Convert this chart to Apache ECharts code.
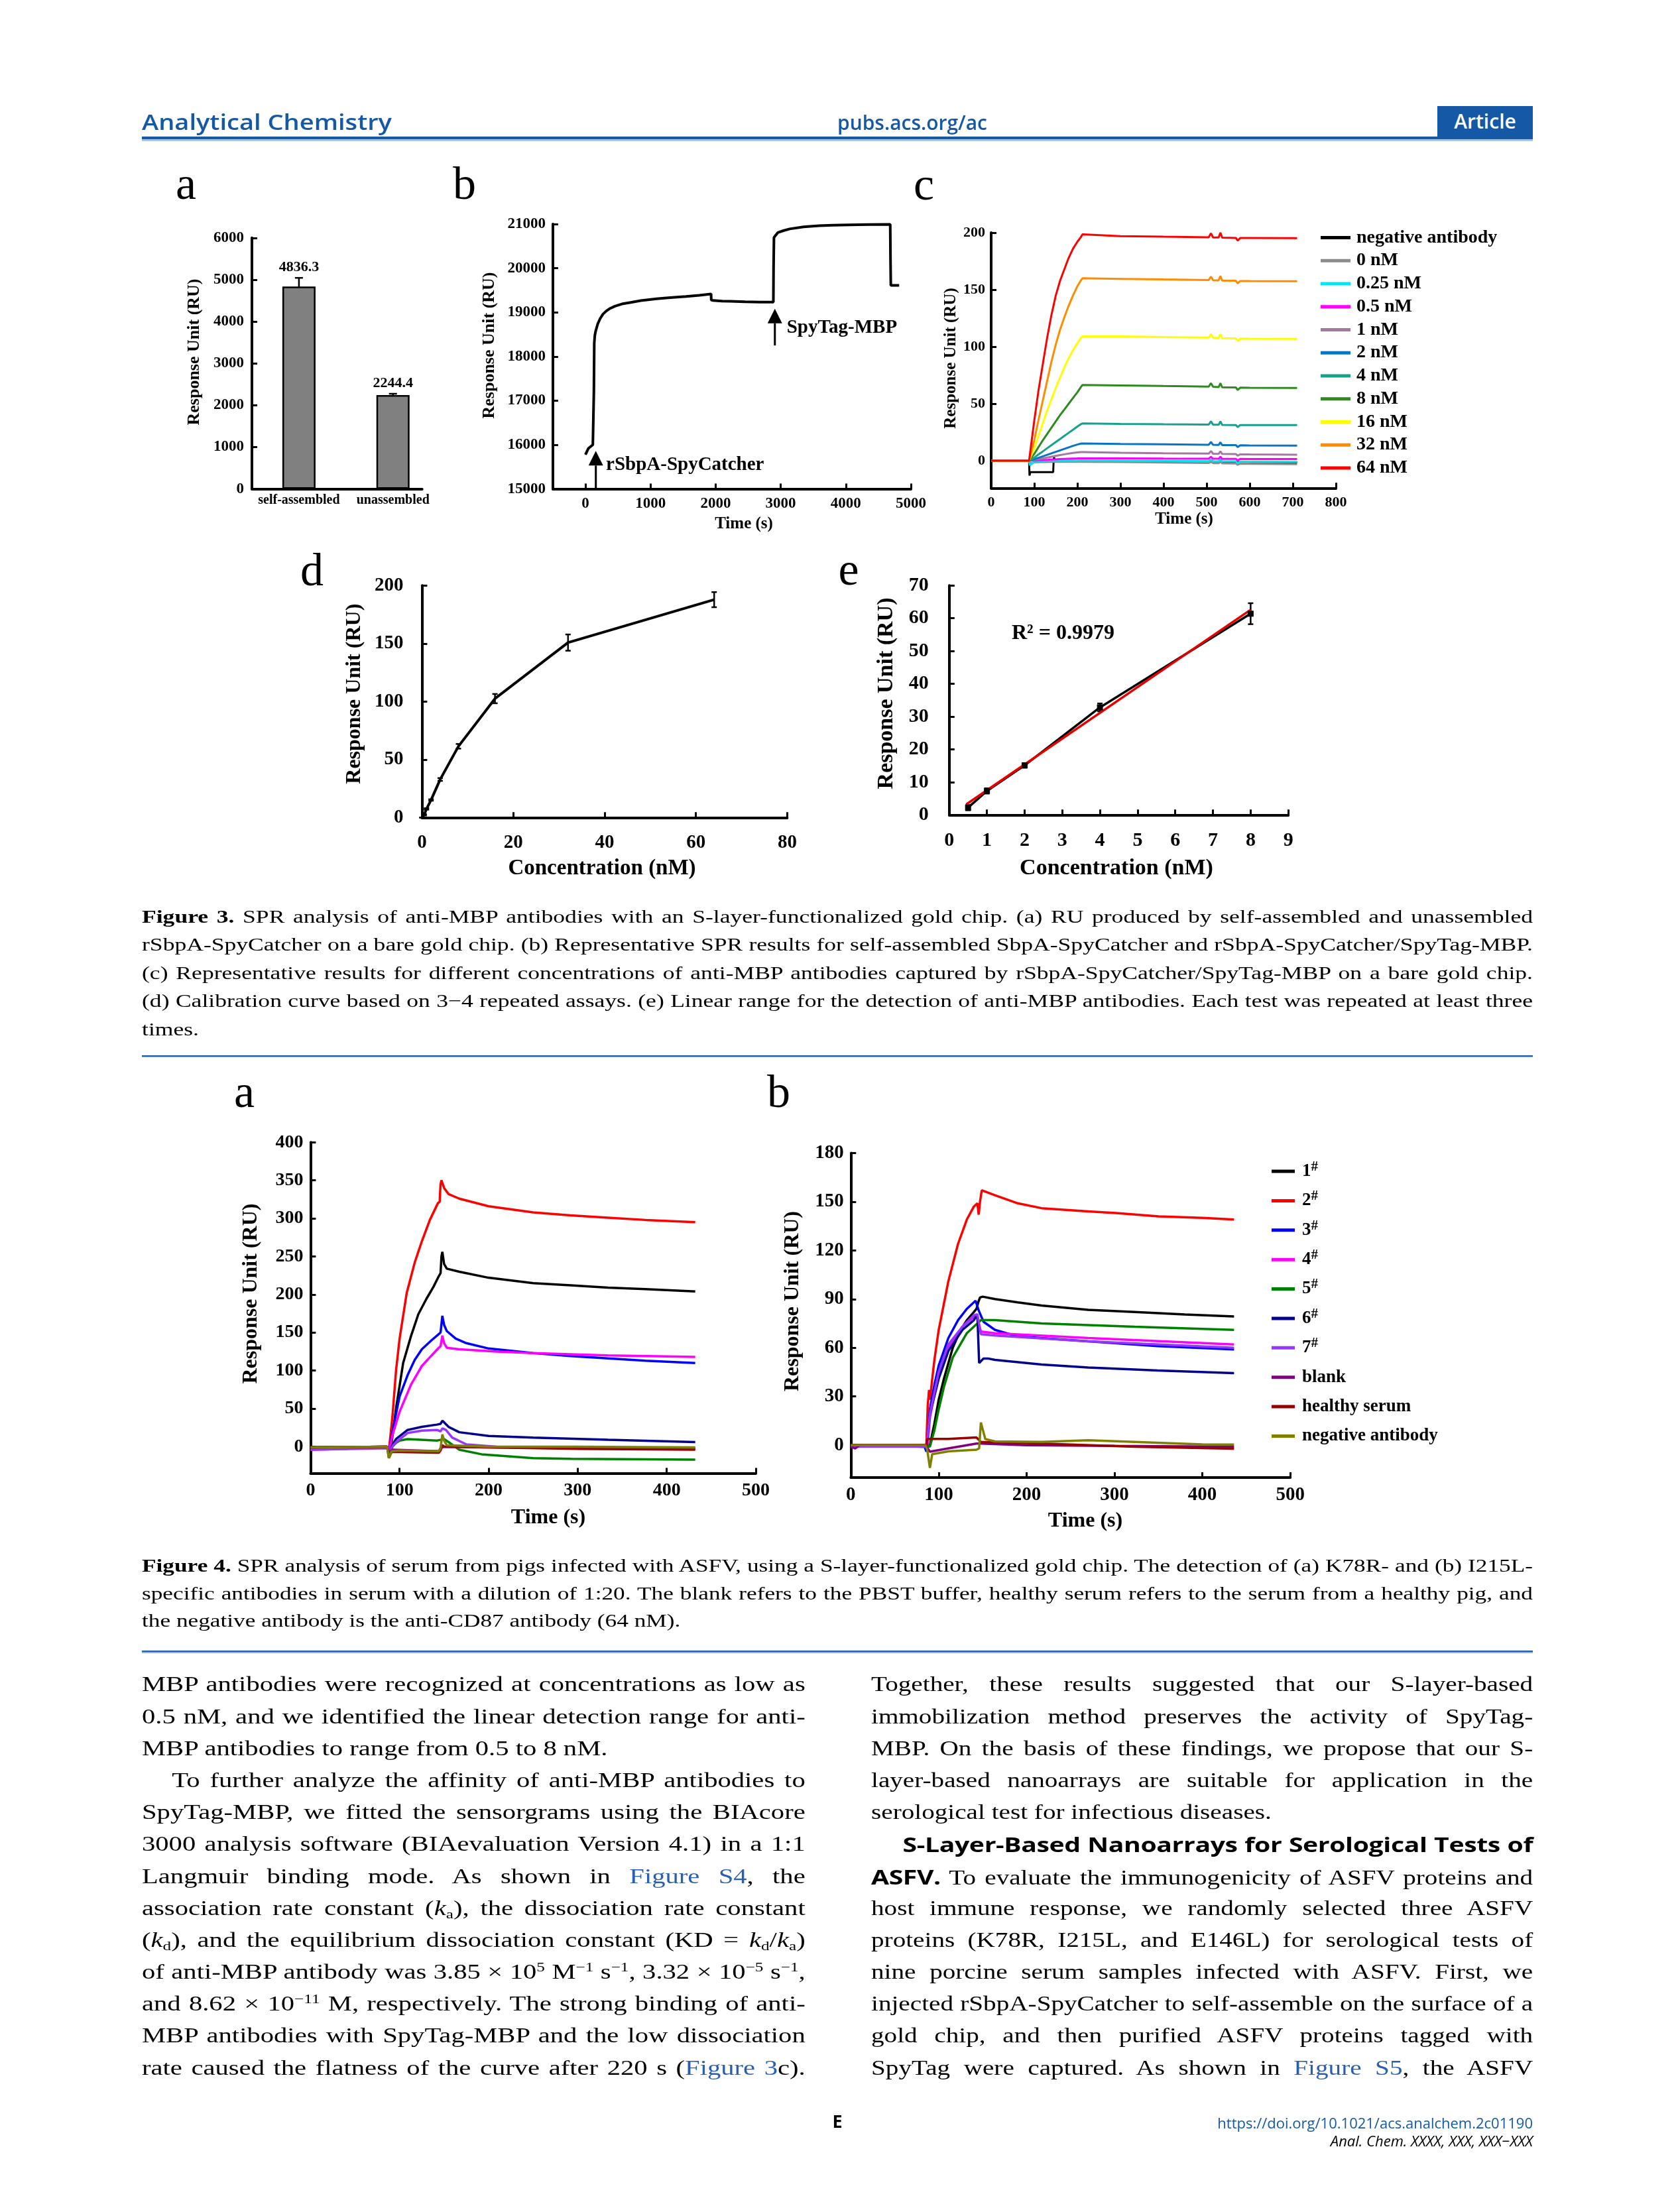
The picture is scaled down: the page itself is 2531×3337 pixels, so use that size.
<!DOCTYPE html>
<html><head><meta charset="utf-8">
<script src="https://cdn.jsdelivr.net/npm/echarts@6/dist/echarts.min.js"></script>
<style>
html,body{margin:0;padding:0;background:#fff;}
body{width:2531px;height:3337px;position:relative;overflow:hidden;}
#chart{position:absolute;left:0;top:0;width:2531px;height:3337px;z-index:1;}
.t{position:absolute;z-index:2;color:#000;white-space:nowrap;}
.blue{color:#1458a6;}
.rule{position:absolute;z-index:2;left:214px;width:2098px;}
.txt{position:absolute;z-index:2;font-family:"Liberation Serif",serif;color:#000;transform-origin:0 0;}
.cap{left:214px;width:2098px;font-size:27.5px;line-height:42.5px;}
.col{top:2517.4px;font-size:30.5px;line-height:48.2px;}
.ln{text-align:justify;text-align-last:justify;overflow:visible;}
.cap .ln{height:42.5px;}
.col .ln{height:48.2px;}
.ln.last{text-align-last:left;}
.ind1{text-indent:34px;}
.ind2{text-indent:37px;}
.sans{font-family:"Open Sans",sans-serif;font-weight:700;letter-spacing:-0.3px;}
a{color:#2a5fb0;text-decoration:none;}
sup{font-size:0.62em;vertical-align:0.6em;line-height:0;}
sub{font-size:0.62em;vertical-align:-0.25em;line-height:0;}
</style></head><body>
<div id="chart"></div>

<div class="t blue" id="jt" style="left:214px;top:164px;font:600 33px 'Open Sans',sans-serif;line-height:40px;transform-origin:0 0;">Analytical Chemistry</div>
<div class="t blue" id="url" style="left:1263px;top:164px;font:600 31px 'Open Sans',sans-serif;line-height:40px;transform-origin:0 0;">pubs.acs.org/ac</div>
<div class="t" style="left:2168px;top:160px;width:144px;height:46px;background:#1458a6;color:#fff;font:600 30px 'Open Sans',sans-serif;line-height:46px;text-align:center;">Article</div>
<div class="rule" style="top:206px;height:4px;background:#1458a6;"></div>
<div class="rule" style="top:210px;height:3px;background:#a9c4e4;"></div>

<div class="txt cap" id="cap3" style="top:1361.75px;">
<div class="ln"><b>Figure 3.</b> SPR analysis of anti-MBP antibodies with an S-layer-functionalized gold chip. (a) RU produced by self-assembled and unassembled</div>
<div class="ln">rSbpA-SpyCatcher on a bare gold chip. (b) Representative SPR results for self-assembled SbpA-SpyCatcher and rSbpA-SpyCatcher/SpyTag-MBP.</div>
<div class="ln">(c) Representative results for different concentrations of anti-MBP antibodies captured by rSbpA-SpyCatcher/SpyTag-MBP on a bare gold chip.</div>
<div class="ln">(d) Calibration curve based on 3−4 repeated assays. (e) Linear range for the detection of anti-MBP antibodies. Each test was repeated at least three</div>
<div class="ln last">times.</div>
</div>
<div class="rule" style="top:1591.5px;height:2px;background:#1f5fae;"></div>
<div class="rule" style="top:1593.5px;height:1.5px;background:#8fb2de;"></div>

<div class="txt cap" id="cap4" style="top:2341.25px;line-height:41.5px;">
<div class="ln" style="height:41.5px"><b>Figure 4.</b> SPR analysis of serum from pigs infected with ASFV, using a S-layer-functionalized gold chip. The detection of (a) K78R- and (b) I215L-</div>
<div class="ln" style="height:41.5px">specific antibodies in serum with a dilution of 1:20. The blank refers to the PBST buffer, healthy serum refers to the serum from a healthy pig, and</div>
<div class="ln last" style="height:41.5px">the negative antibody is the anti-CD87 antibody (64 nM).</div>
</div>
<div class="rule" style="top:2490px;height:2px;background:#1f5fae;"></div>
<div class="rule" style="top:2492px;height:1.5px;background:#8fb2de;"></div>

<div class="txt col" id="colL" style="left:214px;width:1000.7px;">
<div class="ln">MBP antibodies were recognized at concentrations as low as</div>
<div class="ln">0.5 nM, and we identified the linear detection range for anti-</div>
<div class="ln last">MBP antibodies to range from 0.5 to 8 nM.</div>
<div class="ln ind1">To further analyze the affinity of anti-MBP antibodies to</div>
<div class="ln">SpyTag-MBP, we fitted the sensorgrams using the BIAcore</div>
<div class="ln">3000 analysis software (BIAevaluation Version 4.1) in a 1:1</div>
<div class="ln">Langmuir binding mode. As shown in <a>Figure S4</a>, the</div>
<div class="ln">association rate constant (<i>k</i><sub>a</sub>), the dissociation rate constant</div>
<div class="ln">(<i>k</i><sub>d</sub>), and the equilibrium dissociation constant (KD = <i>k</i><sub>d</sub>/<i>k</i><sub>a</sub>)</div>
<div class="ln">of anti-MBP antibody was 3.85 × 10<sup>5</sup> M<sup>−1</sup> s<sup>−1</sup>, 3.32 × 10<sup>−5</sup> s<sup>−1</sup>,</div>
<div class="ln">and 8.62 × 10<sup>−11</sup> M, respectively. The strong binding of anti-</div>
<div class="ln">MBP antibodies with SpyTag-MBP and the low dissociation</div>
<div class="ln">rate caused the flatness of the curve after 220 s (<a>Figure 3</a>c).</div>
</div>

<div class="txt col" id="colR" style="left:1313.8px;width:998.2px;">
<div class="ln">Together, these results suggested that our S-layer-based</div>
<div class="ln">immobilization method preserves the activity of SpyTag-</div>
<div class="ln">MBP. On the basis of these findings, we propose that our S-</div>
<div class="ln">layer-based nanoarrays are suitable for application in the</div>
<div class="ln last">serological test for infectious diseases.</div>
<div class="ln ind2 free"><span class="sans">S-Layer-Based Nanoarrays for Serological Tests of</span></div>
<div class="ln"><span class="sans">ASFV.</span> To evaluate the immunogenicity of ASFV proteins and</div>
<div class="ln">host immune response, we randomly selected three ASFV</div>
<div class="ln">proteins (K78R, I215L, and E146L) for serological tests of</div>
<div class="ln">nine porcine serum samples infected with ASFV. First, we</div>
<div class="ln">injected rSbpA-SpyCatcher to self-assemble on the surface of a</div>
<div class="ln">gold chip, and then purified ASFV proteins tagged with</div>
<div class="ln">SpyTag were captured. As shown in <a>Figure S5</a>, the ASFV</div>
</div>

<div class="t" style="left:1249px;top:3185px;width:28px;text-align:center;font:700 27px 'Open Sans',sans-serif;line-height:30px;">E</div>
<div class="t blue" id="doi" style="right:219px;top:3187px;font:400 22px 'Open Sans',sans-serif;line-height:30px;">https://doi.org/10.1021/acs.analchem.2c01190</div>
<div class="t" id="jr" style="right:219px;top:3214px;font:italic 400 22px 'Open Sans',sans-serif;line-height:30px;">Anal. Chem. XXXX, XXX, XXX−XXX</div>

<script>
// ---------------- DATA ----------------
const fig3aCategories = ['self-assembled', 'unassembled'];
const fig3aValues = [4836.3, 2244.4];
const fig3aErrors = [207, 30];
const fig3aTicksY = [0, 1000, 2000, 3000, 4000, 5000, 6000];

const fig3bTime = [0,45,114,123,130,136,145,159,190,227,270,318,380,455,560,682,850,1091,1300,1546,1750,1930,1933,1960,2100,2228,2450,2682,2887,2890,2896,2920,2955,3040,3137,3350,3591,3800,4046,4350,4682,4686,4691,4819];
const fig3bRU = [15778,15917,16000,16028,17200,18306,18480,18584,18740,18861,18960,19028,19090,19139,19190,19222,19265,19306,19335,19361,19385,19417,19278,19268,19255,19250,19240,19233,19233,20000,20694,20740,20806,20850,20889,20935,20961,20975,20983,20990,20994,20200,19611,19611];
const fig3bArrows = [[160, 15020, 15860], [2910, 18250, 19083]];
const fig3bArrowLabels = ['rSbpA-SpyCatcher', 'SpyTag-MBP'];
const fig3bArrowLabelPos = [[316, 15535], [3092, 18643]];
const fig3bTicksX = [0, 1000, 2000, 3000, 4000, 5000];
const fig3bTicksY = [15000, 16000, 17000, 18000, 19000, 20000, 21000];

const fig3cNames = ['negative antibody','0 nM','0.25 nM','0.5 nM','1 nM','2 nM','4 nM','8 nM','16 nM','32 nM','64 nM'];
const fig3cColors = ['#000000','#8c8c8c','#00e6f2','#ff00ff','#a27aa0','#0a74c4','#17a08e','#2e8a1e','#ffff00','#ff8c00','#ff0000'];
const fig3cTime = [0,88,90,100,110,120,130,140,150,160,170,180,190,200,208,212,300,400,505,510,515,528,532,536,568,572,578,600,710];
const fig3cNegative = [[0,0],[88,0],[89,-13],[91,-10],[144,-10],[145,0],[146,3],[148,0],[300,-0.5],[500,-1],[710,-1.5]];
const fig3c0nM   = [0,0,-2.5,-1.5,-1.3,-1.2,-1.1,-1,-1,-1,-1,-1,-1,-1,-1,-1,-1.2,-1.6,-2,-0.8,-2.1,-2.2,-0.8,-2.3,-2.4,-3.6,-2.6,-2.7,-3];
const fig3c025nM = [0,0,-4,-1,-0.5,-0.3,0,0,0,0,0,0,0,0,0.2,0.2,0,-0.2,-0.4,1,-0.5,-0.5,1.2,-0.6,-0.6,-2.2,-0.8,-0.8,-1];
const fig3c05nM  = [0,0,0,0.2,0.4,0.6,0.8,1,1.2,1.4,1.6,1.8,1.9,2,2.1,2.1,2,1.9,1.8,3.5,1.7,1.7,3.5,1.6,1.6,0.3,1.6,1.5,1.5];
const fig3c1nM   = [0,0,0,0.7,1.4,2.1,2.8,3.5,4.2,4.9,5.6,6.2,6.8,7.3,7.5,7.5,7,6.6,6.2,8.5,6.1,6,8.2,5.9,5.8,4.4,5.6,5.5,5.3];
const fig3c2nM   = [0,0,0,1.3,2.6,3.9,5.2,6.5,7.8,9.1,10.4,11.7,13,14.2,15,15.1,14.7,14.4,14,16.5,13.9,13.8,16.2,13.7,13.6,12,13.5,13.4,13.3];
const fig3c4nM   = [0,0,0,2.7,5.5,8.2,11,13.7,16.4,19.1,21.8,24.5,27.2,29.9,32,32.7,32.3,32,31.7,34.5,31.6,31.5,34.5,31.4,31.3,29.5,31.3,31.2,31.2];
const fig3c8nM   = [0,0,0,6,12,18,23.5,29,34.5,40,45,50,55,60,64.5,66.5,66,65.5,65,68,64.8,64.6,68,64.4,64.2,62,64.1,64,63.8];
const fig3c16nM  = [0,0,0,11,22,33,44,54,64,73,82,90,97,103,107.5,109,109,108.5,108,111,107.8,107.6,111,107.4,107.2,105,107.1,107,106.9];
const fig3c32nM  = [0,0,0,18,36,53,70,87,102,115,126,136,145,153,158,160,159.5,159,158.5,161.5,158.3,158.2,162,158,157.8,155.5,157.6,157.5,157.4];
const fig3c64nM  = [0,0,0,35,62,85,108,128,145,158,168,178,186,192,196,198.5,197,196.5,196,199.5,195.8,195.8,200,195.6,195.4,193,195.3,195.3,195.2];
const fig3cTicksX = [0,100,200,300,400,500,600,700,800];
const fig3cTicksY = [0,50,100,150,200];

const fig3dConc = [0, 0.5, 1, 2, 4, 8, 16, 32, 64];
const fig3dRU = [0, 2.3, 7.4, 15.1, 32.8, 61.4, 102.5, 150.8, 187.8];
const fig3dErr = [0, 0.5, 0.6, 0.6, 1.2, 2, 4, 7, 6.5];
const fig3dTicksX = [0,20,40,60,80];
const fig3dTicksY = [0,50,100,150,200];

const fig3eConc = [0.5, 1, 2, 4, 8];
const fig3eRU = [2.2, 7.3, 15.1, 32.8, 61.4];
const fig3eErr = [0.8, 0.8, 0.7, 1.2, 3.2];
const fig3eFit = [[0.45, 3.2], [8, 62.6]];
const fig3eTicksX = [0,1,2,3,4,5,6,7,8,9];
const fig3eTicksY = [0,10,20,30,40,50,60,70];

const fig4Names = ['1#','2#','3#','4#','5#','6#','7#','blank','healthy serum','negative antibody'];
const fig4Colors = ['#000000','#ff0000','#0000ff','#ff00ff','#008000','#00008b','#9933ff','#800080','#990000','#808000'];
const fig4aData = [
 [[0,-1],[86,0],[88,-5],[91,5],[96,50],[104,110],[113,146],[121,174],[130,194],[138,210],[144,224],[146,228],[147,250],[148,256],[150,240],[153,234],[167,230],[200,222],[250,215],[292,212],[334,209],[376,207],[432,204]],
 [[0,-1],[86,0],[88,-5],[92,40],[96,100],[100,142],[108,202],[117,242],[125,270],[134,298],[143,320],[145,322],[146,345],[147,350],[150,340],[155,332],[167,326],[200,316],[250,308],[292,304],[334,301],[376,298],[432,295]],
 [[0,-2],[86,-1],[88,-6],[92,20],[100,66],[109,94],[117,114],[125,128],[136,140],[144,148],[146,150],[148,172],[150,160],[153,152],[163,142],[175,136],[200,129],[250,123],[292,119],[334,116],[376,113],[432,110]],
 [[0,-4],[40,-3],[50,-1],[86,-1],[88,-6],[92,15],[100,46],[113,82],[125,106],[136,120],[144,130],[146,132],[148,146],[150,136],[153,130],[167,128],[209,125],[250,123],[334,120],[432,118]],
 [[0,-1],[86,0],[88,-10],[92,0],[96,5],[100,8],[109,10],[142,8],[146,9],[150,10],[155,6],[167,-4],[192,-10],[250,-15],[292,-16],[432,-17]],
 [[0,-2],[86,-1],[88,-10],[92,2],[96,10],[109,22],[125,26],[142,29],[146,30],[148,34],[150,32],[155,26],[167,19],[200,14],[250,12],[334,9],[432,6]],
 [[0,-4],[50,-3],[86,-2],[88,-8],[92,0],[96,6],[109,18],[125,21],[142,22],[146,20],[148,24],[152,22],[159,12],[175,3],[209,0],[300,-1],[432,-2]],
 [[0,-1],[86,0],[88,-8],[92,-4],[144,-6],[146,-2],[150,0],[200,-1],[300,-2],[432,-3]],
 [[0,-1],[86,0],[88,-15],[91,-7],[100,-7],[144,-8],[146,-5],[148,2],[150,0],[200,-1],[300,-3],[432,-4]],
 [[0,-1],[86,0],[88,-15],[91,-6],[100,-5],[144,-6],[146,-2],[148,16],[150,8],[153,2],[200,0],[300,0],[432,-1]]
];
const fig4bData = [
 [[0,0],[85,0],[88,-1],[90,0],[95,13],[100,28],[106,41],[116,60],[124,70],[132,77],[140,82],[143,84],[145,88],[147,91],[150,91.5],[164,90],[190,88],[217,86],[270,83.4],[323,82],[380,80.5],[436,79.3]],
 [[0,0],[86,0],[87,0],[87.5,24],[89,34],[90,28],[95,52],[100,71],[111,101],[122,124],[132,139],[140,147],[144,149],[145.5,142],[147,150],[149,157],[164,154],[190,149],[217,146],[270,144],[302,143],[350,141],[400,140],[436,139]],
 [[0,0],[84,-1],[86,-4],[90,22],[95,37],[100,49],[111,66],[122,77],[132,84],[142,89],[145.5,83],[151,76],[164,71],[190,67],[270,64],[349,61],[436,59]],
 [[0,-1],[85,0],[87,-2],[90,17],[95,31],[100,43],[111,60],[127,73],[140,79],[143,80],[148,70],[164,69],[270,66],[436,62]],
 [[0,0],[86,0],[90,-1],[95,9],[100,22],[106,36],[116,54],[132,69],[144,75],[148,77],[164,77],[217,75],[323,73],[436,71]],
 [[0,0],[86,-1],[90,19],[100,41],[111,58],[127,71],[140,77],[144,80.6],[146,50.6],[151,53.4],[156,53.4],[164,52.5],[217,49.7],[270,47.8],[349,46],[436,44.4]],
 [[0,-1],[86,-1],[90,19],[100,45],[111,62],[127,73],[140,80],[144,80.6],[148,68.4],[164,67.5],[270,64],[436,60]],
 [[0,-1],[5,-2],[10,0],[85,0],[90,-4],[111,-2],[143,1],[148,1],[200,0],[300,-0.5],[436,-1]],
 [[0,0],[86,0],[87,3.8],[111,3.8],[143,4.7],[148,2],[217,1],[323,-1],[436,-2.2]],
 [[0,0],[85,0],[87,-3],[90,-14],[92.6,-5.6],[111,-3.8],[143,-2.8],[146,-2],[148,14],[153,3.8],[164,2.3],[217,2],[270,3],[323,2],[400,0.5],[436,0.4]]
];
const fig4aTicksX = [0,100,200,300,400,500];
const fig4aTicksY = [0,50,100,150,200,250,300,350,400];
const fig4bTicksX = [0,100,200,300,400,500];
const fig4bTicksY = [0,30,60,90,120,150,180];

// ---------------- LAYOUT ----------------
const FF = '"Liberation Serif", "Times New Roman", serif';
const grids = [
 {left:380, top:358.8, width:256.7, height:378.8},
 {left:833.9, top:338, width:540.1, height:399.6},
 {left:1495, top:351, width:520, height:385.3},
 {left:636.4, top:883.3, width:551, height:350},
 {left:1431.8, top:883.3, width:511.4, height:346},
 {left:468.4, top:1723.3, width:671.6, height:499.3},
 {left:1283.3, top:1739.4, width:662.9, height:489.7}
].map(g => Object.assign({containLabel:false, outerBoundsMode:'none', show:false}, g));

function axis(gi, min, max, ticks, fs, margin, fmt) {
  return {
    type:'value', gridIndex:gi, min:min, max:max,
    axisLine:{show:true, onZero:false, lineStyle:{color:'#000', width:4}},
    axisTick:{show:true, inside:true, length:8, lineStyle:{color:'#000', width:3}, customValues:ticks},
    axisLabel:{show:true, margin:margin, color:'#000', fontFamily:FF, fontWeight:'bold', fontSize:fs,
               customValues:ticks, formatter: fmt || (v => String(v)), hideOverlap:false},
    splitLine:{show:false}, minorTick:{show:false}, axisPointer:{show:false}
  };
}
const xAxes = [
  axis(0,-0.5,1.31,[0,1],20,7, v => fig3aCategories[Math.round(v)]),
  axis(1,-500,5000,fig3bTicksX,23,11),
  axis(2,0,800,fig3cTicksX,22,11),
  axis(3,0,80,fig3dTicksX,29,24),
  axis(4,0,9,fig3eTicksX,30,24),
  axis(5,0,500,fig4aTicksX,28,12),
  axis(6,0,500,fig4bTicksX,29,12)
];
const yAxes = [
  axis(0,0,6000,fig3aTicksY,23,12),
  axis(1,15000,21000,fig3bTicksY,23,11),
  axis(2,-24,200,fig3cTicksY,22,9),
  axis(3,0,200,fig3dTicksY,29,28),
  axis(4,0,70,fig3eTicksY,30,31),
  axis(5,-35,400,fig4aTicksY,28,11),
  axis(6,-20,180,fig4bTicksY,29,10.5)
];

function errRender(capHalf, lw, withLabel) {
  return function(params, api) {
    const x = api.value(0), lo = api.value(1), hi = api.value(2);
    const a = api.coord([x, lo]), b = api.coord([x, hi]);
    const st = {stroke:'#000', lineWidth:lw};
    const ch = [
      {type:'line', shape:{x1:a[0], y1:a[1], x2:b[0], y2:b[1]}, style:st},
      {type:'line', shape:{x1:a[0]-capHalf, y1:a[1], x2:a[0]+capHalf, y2:a[1]}, style:st},
      {type:'line', shape:{x1:b[0]-capHalf, y1:b[1], x2:b[0]+capHalf, y2:b[1]}, style:st}
    ];
    if (withLabel) {
      ch.push({type:'text', style:{text: api.value(3).toFixed(1), x:b[0], y:b[1]-5,
        textAlign:'center', textVerticalAlign:'bottom', fontFamily:FF, fontWeight:'bold', fontSize:22, fill:'#000'}});
    }
    return {type:'group', children:ch};
  };
}
function pairs(t, v) { return t.map((x, i) => [x, v[i]]); }

const series = [];
series.push({type:'bar', xAxisIndex:0, yAxisIndex:0, barWidth:50, silent:true,
  data: fig3aValues.map((v, i) => [i, v]),
  itemStyle:{color:'#808080', borderColor:'#000', borderWidth:2.5}});
series.push({type:'custom', xAxisIndex:0, yAxisIndex:0, silent:true, encode:{x:0, y:[1,2]},
  renderItem: errRender(6, 2.5, true),
  data: fig3aValues.map((v, i) => [i, v - fig3aErrors[i], v + fig3aErrors[i], v])});
series.push({type:'line', xAxisIndex:1, yAxisIndex:1, showSymbol:false, silent:true, smooth:false,
  data: pairs(fig3bTime, fig3bRU), lineStyle:{color:'#000', width:4}});
series.push({type:'custom', xAxisIndex:1, yAxisIndex:1, silent:true, encode:{x:0, y:[1,2]},
  data: fig3bArrows,
  renderItem: function(params, api) {
    const x = api.value(0);
    const a = api.coord([x, api.value(1)]), b = api.coord([x, api.value(2)]);
    const hw = 11, hh = 22;
    return {type:'group', children:[
      {type:'line', shape:{x1:a[0], y1:a[1], x2:b[0], y2:b[1]+hh}, style:{stroke:'#000', lineWidth:3}},
      {type:'polygon', shape:{points:[[b[0], b[1]], [b[0]-hw, b[1]+hh], [b[0]+hw, b[1]+hh]]}, style:{fill:'#000'}}
    ]};
  }});
series.push({type:'custom', xAxisIndex:1, yAxisIndex:1, silent:true, encode:{x:0, y:1},
  data: fig3bArrowLabelPos.map((p, i) => [p[0], p[1], i]),
  renderItem: function(params, api) {
    const p = api.coord([api.value(0), api.value(1)]);
    return {type:'text', style:{text: fig3bArrowLabels[api.value(2)], x:p[0], y:p[1], textAlign:'left',
      textVerticalAlign:'middle', fontFamily:FF, fontWeight:'bold', fontSize:29, fill:'#000'}};
  }});
const fig3cSeriesData = [fig3cNegative, pairs(fig3cTime, fig3c0nM), pairs(fig3cTime, fig3c025nM), pairs(fig3cTime, fig3c05nM),
  pairs(fig3cTime, fig3c1nM), pairs(fig3cTime, fig3c2nM), pairs(fig3cTime, fig3c4nM), pairs(fig3cTime, fig3c8nM),
  pairs(fig3cTime, fig3c16nM), pairs(fig3cTime, fig3c32nM), pairs(fig3cTime, fig3c64nM)];
fig3cNames.forEach((n, i) => series.push({type:'line', name:n, xAxisIndex:2, yAxisIndex:2, showSymbol:false, silent:true,
  data: fig3cSeriesData[i], color: fig3cColors[i], lineStyle:{color:fig3cColors[i], width:3}, itemStyle:{color:fig3cColors[i]}}));
series.push({type:'line', xAxisIndex:3, yAxisIndex:3, showSymbol:false, silent:true,
  data: pairs(fig3dConc, fig3dRU), lineStyle:{color:'#000', width:4}});
series.push({type:'custom', xAxisIndex:3, yAxisIndex:3, silent:true, encode:{x:0, y:[1,2]},
  renderItem: errRender(4, 2.5, false),
  data: fig3dConc.map((c, i) => [c, fig3dRU[i] - fig3dErr[i], fig3dRU[i] + fig3dErr[i]])});
series.push({type:'line', xAxisIndex:4, yAxisIndex:4, showSymbol:true, symbol:'rect', symbolSize:9, silent:true,
  data: pairs(fig3eConc, fig3eRU), lineStyle:{color:'#000', width:3.5}, itemStyle:{color:'#000'}});
series.push({type:'custom', xAxisIndex:4, yAxisIndex:4, silent:true, encode:{x:0, y:[1,2]},
  renderItem: errRender(4, 2.5, false),
  data: fig3eConc.map((c, i) => [c, fig3eRU[i] - fig3eErr[i], fig3eRU[i] + fig3eErr[i]])});
series.push({type:'line', xAxisIndex:4, yAxisIndex:4, showSymbol:false, silent:true,
  data: fig3eFit, lineStyle:{color:'#e60000', width:3.5}});
fig4Names.forEach((n, i) => series.push({type:'line', name:'A ' + n, xAxisIndex:5, yAxisIndex:5, showSymbol:false, silent:true,
  data: fig4aData[i], color: fig4Colors[i], lineStyle:{color:fig4Colors[i], width:3.5}, itemStyle:{color:fig4Colors[i]}}));
fig4Names.forEach((n, i) => series.push({type:'line', name:'B ' + n, xAxisIndex:6, yAxisIndex:6, showSymbol:false, silent:true,
  data: fig4bData[i], color: fig4Colors[i], lineStyle:{color:fig4Colors[i], width:3.5}, itemStyle:{color:fig4Colors[i]}}));

function txt(t, x, y, fs, opts) {
  opts = opts || {};
  return {type:'text', x:x, y:y, rotation: opts.rot ? Math.PI/2 : 0, silent:true, z:10,
    style:{text:t, x:0, y:0, textAlign: opts.align || 'center', textVerticalAlign:'middle',
      fontFamily:FF, fontWeight: opts.normal ? 'normal' : 'bold', fontSize:fs, fill:'#000'}};
}
const graphics = [
  txt('a', 265, 281.8, 70, {align:'left', normal:true}),
  txt('b', 683, 281.5, 70, {align:'left', normal:true}),
  txt('c', 1378, 283, 70, {align:'left', normal:true}),
  txt('d', 453, 864.7, 70, {align:'left', normal:true}),
  txt('e', 1264.5, 863.4, 70, {align:'left', normal:true}),
  txt('a', 353, 1651.4, 70, {align:'left', normal:true}),
  txt('b', 1157, 1651.4, 70, {align:'left', normal:true}),
  txt('Response Unit (RU)', 293, 531, 26, {rot:true}),
  txt('Response Unit (RU)', 738, 521, 26, {rot:true}),
  txt('Time (s)', 1122, 791, 25),
  txt('Response Unit (RU)', 1434.5, 540.5, 25, {rot:true}),
  txt('Time (s)', 1786, 784, 25),
  txt('Response Unit (RU)', 534.4, 1046.7, 32, {rot:true}),
  txt('Concentration (nM)', 908, 1310, 33),
  txt('Response Unit (RU)', 1337, 1046, 34, {rot:true}),
  txt('Concentration (nM)', 1684, 1310, 34),
  txt('R² = 0.9979', 1526, 956, 32, {align:'left'}),
  txt('Response Unit (RU)', 378.6, 1951.6, 32, {rot:true}),
  txt('Time (s)', 827, 2290, 32),
  txt('Response Unit (RU)', 1195.6, 1963, 32, {rot:true}),
  txt('Time (s)', 1637, 2295, 32)
];

const option = {
  animation:false,
  backgroundColor:'transparent',
  textStyle:{fontFamily:FF},
  grid: grids,
  xAxis: xAxes,
  yAxis: yAxes,
  legend: [
    {orient:'vertical', left:1992, top:342.4, padding:0, itemWidth:45, itemHeight:5, itemGap:2.76, icon:'rect',
     selectedMode:false, itemStyle:{borderWidth:0},
     textStyle:{fontFamily:FF, fontWeight:'bold', fontSize:28, lineHeight:32, color:'#000', padding:[0,0,0,4]},
     data: fig3cNames.map((n, i) => ({name:n, itemStyle:{color:fig3cColors[i]}}))},
    {orient:'vertical', left:1918, top:1750, padding:0, itemWidth:35, itemHeight:5, itemGap:10.38, icon:'rect',
     selectedMode:false, itemStyle:{borderWidth:0},
     formatter: function(name) { const n = name.replace(/^B /, ''); const m = n.match(/^(\d)#$/); return m ? m[1] + '{s|#}' : n; },
     textStyle:{fontFamily:FF, fontWeight:'bold', fontSize:27, lineHeight:34, color:'#000', padding:[0,0,0,6],
       rich:{s:{fontFamily:FF, fontWeight:'bold', fontSize:21, lineHeight:14, verticalAlign:'top', color:'#000'}}},
     data: fig4Names.map((n, i) => ({name:'B ' + n, itemStyle:{color:fig4Colors[i]}}))}
  ],
  graphic: graphics,
  series: series
};
const chart = echarts.init(document.getElementById('chart'), null, {renderer:'canvas', width:2531, height:3337});
chart.setOption(option);

// ---------- text fitting ----------
function fitWidth(el, target) {
  const w = el.getBoundingClientRect().width;
  if (w > 0) { el.style.transform = 'scaleX(' + (target / w) + ')'; }
}
fitWidth(document.getElementById('jt'), 377);
fitWidth(document.getElementById('url'), 226);

function naturalWidth(l) {
  const r = document.createRange(); r.selectNodeContents(l);
  return r.getBoundingClientRect().right - l.getBoundingClientRect().left;
}
function fitBlock(id, targetW) {
  const block = document.getElementById(id);
  const lines = Array.from(block.querySelectorAll('.ln'));
  block.style.transform = 'none';
  block.style.width = '6000px';
  lines.forEach(l => { l.style.whiteSpace = 'nowrap'; l.style.textAlign = 'left'; l.style.textAlignLast = 'left'; });
  let maxW = 0;
  lines.forEach(l => {
    if (l.classList.contains('last') || l.classList.contains('free')) return;
    const w = naturalWidth(l); if (w > maxW) maxW = w;
  });
  const scale = targetW / (maxW + 3);
  const innerW = targetW / scale;
  lines.forEach(l => {
    if (l.classList.contains('free')) {
      const w = naturalWidth(l);
      if (w > innerW - 2) {
        const fs = parseFloat(getComputedStyle(l).fontSize);
        l.style.fontSize = (fs * (innerW - 3) / w) + 'px';
      }
    }
  });
  block.style.width = innerW + 'px';
  block.style.transform = 'scaleX(' + scale + ')';
  lines.forEach(l => { l.style.whiteSpace = ''; l.style.textAlign = ''; l.style.textAlignLast = ''; });
}
fitBlock('cap3', 2098);
fitBlock('cap4', 2098);
fitBlock('colL', 1000.7);
fitBlock('colR', 998.2);
</script>
</body></html>
